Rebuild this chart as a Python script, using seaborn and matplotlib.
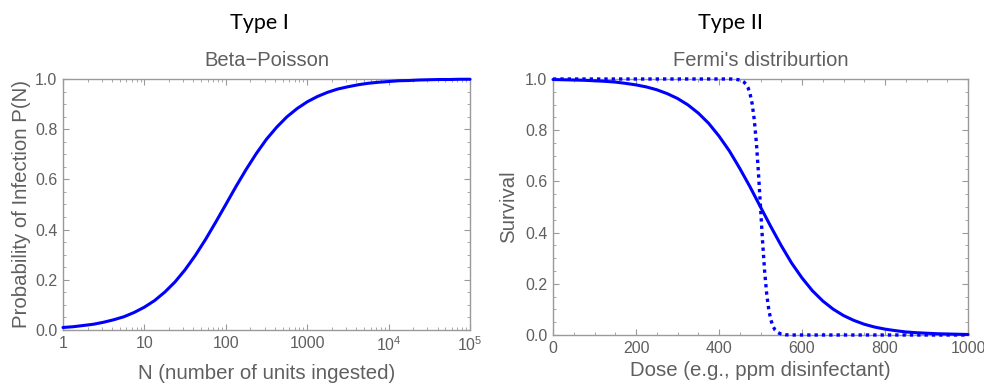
import matplotlib
matplotlib.use("Agg")
import matplotlib.pyplot as plt
import seaborn as sns
import pandas as pd
from matplotlib.ticker import FixedLocator, MultipleLocator, NullFormatter

# ---------------- data ----------------
units_ingested = [1, 1.33, 1.78, 2.37, 3.16, 4.22, 5.62, 7.5, 10, 13.3, 17.8, 23.7,
                  31.6, 42.2, 56.2, 75, 100, 133, 178, 237, 316, 422, 562, 750,
                  1000, 1330, 1780, 2370, 3160, 4220, 5620, 7500, 10000, 13300,
                  17800, 23700, 31600, 42200, 56200, 75000, 100000]
prob_infection = [0.010, 0.013, 0.018, 0.023, 0.031, 0.041, 0.053, 0.070, 0.091,
                  0.117, 0.151, 0.191, 0.240, 0.297, 0.360, 0.429, 0.500, 0.571,
                  0.640, 0.703, 0.760, 0.808, 0.849, 0.882, 0.909, 0.930, 0.947,
                  0.960, 0.969, 0.977, 0.983, 0.987, 0.990, 0.993, 0.994, 0.996,
                  0.997, 0.998, 0.998, 0.999, 0.999]

dose_solid = [0, 25, 50, 75, 100, 125, 150, 175, 200, 225, 250, 275, 300, 325, 350,
              375, 400, 425, 450, 475, 500, 525, 550, 575, 600, 625, 650, 675, 700,
              725, 750, 775, 800, 825, 850, 875, 900, 925, 950, 975, 1000]
survival_solid = [0.998, 0.997, 0.996, 0.995, 0.993, 0.991, 0.988, 0.983, 0.977,
                  0.969, 0.958, 0.943, 0.924, 0.899, 0.867, 0.827, 0.777, 0.719,
                  0.651, 0.578, 0.500, 0.423, 0.349, 0.281, 0.223, 0.173, 0.133,
                  0.101, 0.076, 0.057, 0.042, 0.031, 0.023, 0.017, 0.012, 0.009,
                  0.007, 0.005, 0.004, 0.003, 0.002]

dose_dotted = [0, 100, 200, 300, 400, 430, 440, 450, 455, 460, 465, 470, 475, 480,
               485, 490, 495, 500, 505, 510, 515, 520, 525, 530, 535, 540, 545, 550,
               560, 570, 600, 700, 800, 900, 1000]
survival_dotted = [1.0, 1.0, 1.0, 1.0, 1.0, 1.0, 0.999, 0.996, 0.993, 0.988, 0.980,
                   0.966, 0.941, 0.902, 0.841, 0.752, 0.635, 0.500, 0.365, 0.248,
                   0.159, 0.098, 0.059, 0.034, 0.020, 0.012, 0.007, 0.004, 0.001,
                   0.0, 0.0, 0.0, 0.0, 0.0, 0.0]

left_xticks = [1, 10, 100, 1000, 10000, 100000]
left_xticklabels = ["1", "10", "100", "1000", "$10^4$", "$10^5$"]
y_ticks = [0.0, 0.2, 0.4, 0.6, 0.8, 1.0]
y_ticklabels = ["0.0", "0.2", "0.4", "0.6", "0.8", "1.0"]
right_xticks = [0, 200, 400, 600, 800, 1000]

# ---------------- style ----------------
sns.set_style("white")
plt.rcParams["font.family"] = ["Liberation Sans", "DejaVu Sans"]
plt.rcParams["mathtext.fontset"] = "custom"
plt.rcParams["mathtext.rm"] = "Liberation Sans"
plt.rcParams["mathtext.it"] = "Liberation Sans:italic"

FRAME = "#9a9a9a"
TXT = "#5f5f5f"
BLUE = "#0000ff"

fig = plt.figure(figsize=(9.84, 3.83), dpi=100)
ax1 = fig.add_axes([63 / 984, 1 - 330 / 383, (470 - 63) / 984, (330 - 79) / 383])
ax2 = fig.add_axes([553 / 984, 1 - 335 / 383, (968 - 553) / 984, (335 - 79) / 383])

df1 = pd.DataFrame({"N": units_ingested, "P": prob_infection})
sns.lineplot(data=df1, x="N", y="P", ax=ax1, color=BLUE, linewidth=2.2)

df2 = pd.DataFrame({"dose": dose_solid, "surv": survival_solid})
df3 = pd.DataFrame({"dose": dose_dotted, "surv": survival_dotted})
sns.lineplot(data=df2, x="dose", y="surv", ax=ax2, color=BLUE, linewidth=2.2)
sns.lineplot(data=df3, x="dose", y="surv", ax=ax2, color=BLUE, linewidth=2.4,
             linestyle=(0, (1, 1.2)))
for ln in ax2.lines + ax1.lines:
    ln.set_clip_on(False)
    ln.set_zorder(3)

ax1.set_xscale("log")
ax1.set_xlim(1, 100000)
ax1.set_ylim(0, 1)
ax1.xaxis.set_major_locator(FixedLocator(left_xticks))
ax1.set_xticklabels(left_xticklabels)
minors = [m * 10 ** e for e in range(0, 5) for m in range(2, 10)]
ax1.xaxis.set_minor_locator(FixedLocator(minors))
ax1.xaxis.set_minor_formatter(NullFormatter())

ax2.set_xlim(0, 1000)
ax2.set_ylim(0, 1)
ax2.set_xticks(right_xticks)
ax2.set_xticklabels([str(v) for v in right_xticks])
ax2.xaxis.set_minor_locator(MultipleLocator(50))

for ax in (ax1, ax2):
    ax.set_yticks(y_ticks)
    ax.set_yticklabels(y_ticklabels)
    ax.yaxis.set_minor_locator(MultipleLocator(0.05))
    for s in ax.spines.values():
        s.set_color(FRAME)
        s.set_linewidth(1.0)
        s.set_visible(True)
    ax.tick_params(which="both", direction="in", top=True, right=True,
                   bottom=True, left=True, color=FRAME, labelcolor=TXT,
                   labelsize=11.5, pad=4)
    ax.tick_params(which="major", length=4, width=0.8)
    ax.tick_params(which="minor", length=2.2, width=0.6)

LBL = 14.7
ax1.set_xlabel("N (number of units ingested)", fontsize=LBL, color=TXT, labelpad=7)
ax1.set_ylabel("Probability of Infection P(N)", fontsize=LBL, color=TXT, labelpad=3)
ax2.set_xlabel("Dose (e.g., ppm disinfectant)", fontsize=LBL, color=TXT, labelpad=4)
ax2.set_ylabel("Survival", fontsize=LBL, color=TXT, labelpad=5)

ax1.set_title("Beta\u2212Poisson", fontsize=14.5, color=TXT, pad=9)
ax2.set_title("Fermi's distriburtion", fontsize=14.5, color=TXT, pad=9)

fig.text(259 / 984, 1 - 23 / 383, "Type I", ha="center", va="center",
         fontsize=15.5, color="black", family=["Lato", "DejaVu Sans"])
fig.text(731 / 984, 1 - 23 / 383, "Type II", ha="center", va="center",
         fontsize=15.5, color="black", family=["Lato", "DejaVu Sans"])

fig.savefig("out.png", dpi=100)
